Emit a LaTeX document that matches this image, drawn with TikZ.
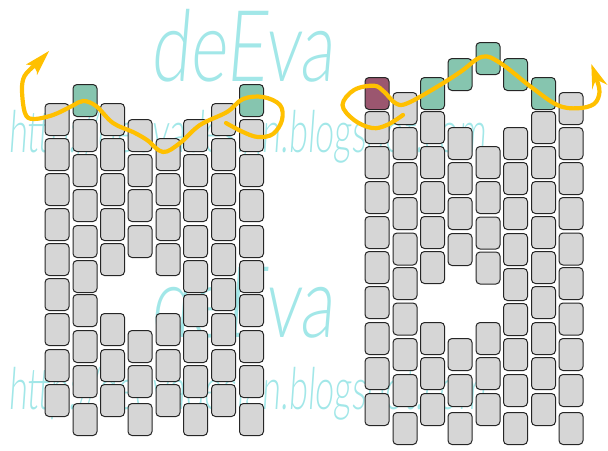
\documentclass[tikz,border=0pt]{standalone}
\usepackage{graphicx}
\usepackage{fontspec}
\setmainfont{Liberation Serif}
\newfontfamily\wmfont[FakeSlant=0.12]{Lato Light}
\definecolor{wm}{HTML}{A2E7E8}
\definecolor{beadgray}{HTML}{D6D6D6}
\definecolor{beadgreen}{HTML}{86C5AF}
\definecolor{beadpurple}{HTML}{9B566F}
\definecolor{thread}{HTML}{FFC000}
\tikzset{
  bead/.style={draw=black!85,line width=1pt,rounded corners=4pt,fill=beadgray,
    minimum width=24pt,minimum height=32pt,inner sep=0pt,anchor=north west},
  greenbead/.style={bead,fill=beadgreen},
  purplebead/.style={bead,fill=beadpurple},
  wmark/.style={inner sep=0pt,text=wm,anchor=north west},
  threadline/.style={draw=thread,line width=4.2pt,line cap=round,line join=round},
  threadhead/.style={fill=thread,draw=none}
}
\begin{document}
\begin{tikzpicture}[x=1pt,y=-1pt]
\useasboundingbox (0,0) rectangle (608,450);
% watermarks
\node[wmark] (logoA) at (150,9) {\resizebox*{183pt}{73pt}{\wmfont deEva}};
\node[wmark] (urlA) at (8,110) {\resizebox*{477pt}{53pt}{\wmfont http://deevadesign.blogspot.com}};
\node[wmark] (logoB) at (150,265) {\resizebox*{183pt}{73pt}{\wmfont deEva}};
\node[wmark] (urlB) at (8,367) {\resizebox*{477pt}{53pt}{\wmfont http://deevadesign.blogspot.com}};
% left panel
\foreach \y in {103,138,173,208,243,278,313,349,384} {
  \node[bead] at (44.5,\y) {};
  \node[bead] at (211,\y) {};
}
\foreach \y in {103,138,173,208,243,313,349,384} { \node[bead] at (100,\y) {}; }
\foreach \y in {138,173,208,243,313,349,384} { \node[bead] at (155.5,\y) {}; }
\foreach \y in {119,154,189,225,260,294,330,365,403} {
  \node[bead] at (72.5,\y) {};
  \node[bead] at (183,\y) {};
  \node[bead] at (239,\y) {};
}
\foreach \y in {119,154,189,225,330,365,403} { \node[bead] at (127.5,\y) {}; }
\node[greenbead] (Lb84) at (72.5,84) {};
\node[greenbead] (Lh84) at (239,84) {};
% right panel
\foreach \y in {111,146,181,216,251,286,322,357,393} {
  \node[bead] at (364.5,\y) {};
  \node[bead] at (531,\y) {};
}
\foreach \y in {111,146,181,216,251,322,357,393} { \node[bead] at (420,\y) {}; }
\foreach \y in {92,127,162,197,232.5,267,302.5,338,374,412} {
  \node[bead] at (392.5,\y) {};
  \node[bead] at (558.5,\y) {};
}
\foreach \y in {127,162,197,233,338,374,412} { \node[bead] at (447.5,\y) {}; }
\foreach \y in {127,162,197,233,268,303,338,374,412} { \node[bead] at (503,\y) {}; }
\foreach \y in {146,181,216.5,251.5,322,357,393} { \node[bead] at (475.5,\y) {}; }
\node[purplebead] (Ra) at (364.5,77) {};
\node[greenbead] (Rc) at (420,77) {};
\node[greenbead] (Rd) at (447.5,58) {};
\node[greenbead] (Re) at (475.5,42) {};
\node[greenbead] (Rf) at (503,58) {};
\node[greenbead] (Rg) at (531,77) {};
% threads
\draw[threadline] plot[smooth,tension=0.6] coordinates {
 (34,66) (24.5,76) (22,90) (25,113) (33,119) (53,115) (72,106) (83,101) (96,106) (113,123) (133,132) (147,140) (163,152) (180,143) (200,125) (227,112) (243,99) (263,97) (280,105) (282,120) (273,134) (258,137) (243,132) (226,123)};
\fill[threadhead] (49,51) -- (26,64.5) .. controls (31,65) and (34,66) .. (35,68) .. controls (37,70) and (37,73) .. (37,75) -- cycle;
\draw[threadline] plot[smooth,tension=0.6] coordinates {
 (403,115) (387,125) (372,128) (354,120) (342.5,105) (354,90) (374,85.7) (384,91.7) (395.7,103.3) (407.3,103.3) (437.3,86.7) (460.7,71.7) (482.3,56.7) (500.7,63.3) (530.7,86.7) (557.3,105) (577.3,108.3) (594,104) (599.5,92) (596.5,79)};
\fill[threadhead] (591.3,64) -- (607.5,85) .. controls (602,82) and (598,81) .. (597,79) .. controls (595,82) and (593,86) .. (592.3,90) -- cycle;
\end{tikzpicture}
\end{document}
